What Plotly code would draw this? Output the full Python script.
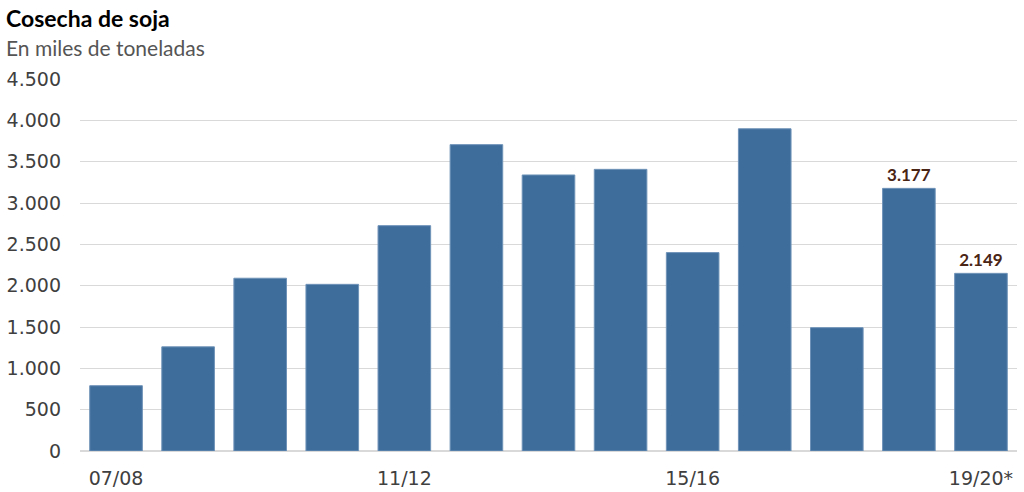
import plotly.graph_objects as go

categories = ["07/08", "08/09", "09/10", "10/11", "11/12", "12/13", "13/14",
              "14/15", "15/16", "16/17", "17/18", "18/19", "19/20*"]
values = [790, 1260, 2090, 2016, 2726, 3706, 3339, 3407, 2400, 3898, 1492, 3177, 2149]
show_label = [False] * 11 + [True, True]
tick_labels = ["07/08", "11/12", "15/16", "19/20*"]
y_ticks = [0, 500, 1000, 1500, 2000, 2500, 3000, 3500, 4000, 4500]

texttemplates = ["%{y:,.0f}" if s else "" for s in show_label]

ML, MR, MT, MB = 80, 7, 79, 41
W, H = 1024, 492
H_plot = H - MT - MB
W_plot = W - ML - MR


def px_x(px):
    return (px - ML) / W_plot


def px_y(py):
    return (H - MB - py) / H_plot


fig = go.Figure(go.Bar(
    x=categories, y=values,
    marker=dict(color="#3e6d9c", line=dict(color="#6f93b8", width=1)),
    texttemplate=texttemplates,
    textposition="outside",
    textfont=dict(family="Lato", size=17, color="#4a2414", weight="bold"),
    cliponaxis=False,
    width=0.73,
))

fig.update_layout(
    width=W, height=H,
    margin=dict(l=ML, r=MR, t=MT, b=MB, autoexpand=False),
    plot_bgcolor="white", paper_bgcolor="white",
    separators=",.",
    showlegend=False,
    font=dict(family="DejaVu Sans", color="#404040"),
)

fig.add_annotation(text="<b>Cosecha de soja</b>", x=px_x(4), y=px_y(18),
                   xref="paper", yref="paper", xanchor="left", yanchor="middle",
                   showarrow=False, font=dict(family="Lato", size=23, color="#000000"))
fig.add_annotation(text="En miles de toneladas", x=px_x(4), y=px_y(47),
                   xref="paper", yref="paper", xanchor="left", yanchor="middle",
                   showarrow=False, font=dict(family="Lato", size=21, color="#555555"))

fig.update_yaxes(
    range=[0, 4500], tickvals=y_ticks, tickformat=",.0f",
    showgrid=True, gridcolor="#d9d9d9", gridwidth=1,
    zeroline=True, zerolinecolor="#d9d9d9", zerolinewidth=1.5,
    tickfont=dict(family="DejaVu Sans", size=19, color="#404040"),
    ticklabelstandoff=18, showline=False, automargin=False,
)
fig.update_xaxes(
    tickvals=tick_labels, ticktext=tick_labels,
    tickfont=dict(family="DejaVu Sans", size=19, color="#404040"),
    showgrid=False, showline=False, ticklabelstandoff=14, automargin=False,
)

fig.write_html("out.html",
               config={"displayModeBar": False},
               post_script="document.body.style.margin='0';")
